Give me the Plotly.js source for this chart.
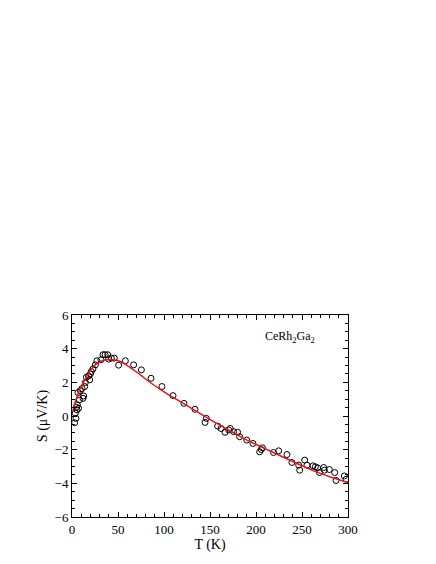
<!DOCTYPE html>
<html>
<head>
<meta charset="utf-8">
<script src="https://cdn.plot.ly/plotly-3.0.1.min.js"></script>
<style>
  body { margin: 0; background: #fff; }
  #plot { width: 436px; height: 564px; }
</style>
</head>
<body>
<div id="plot"></div>
<script>
// measured points, T (K) and S (uV/K)
var tData = [2.9, 4.3, 3.6, 5.4, 4.7, 5.8, 7.2, 8, 6.5, 9, 12, 12.7, 10.9, 13.8, 14.5, 15.6,
  19.2, 18, 20, 21, 22.8, 25.4, 27, 31.5, 33.7, 36, 38.8, 39.9, 42.8, 46, 50.7, 58, 67,
  75.4, 85.9, 97.8, 109.8, 121.7, 133.7, 146, 144.6, 158.3, 162, 166.3, 170.3, 172, 175.7,
  180, 182.2, 190, 196.7, 204, 205.8, 207, 219, 224.6, 233.7, 239, 246.4, 247.5, 252.9,
  255.4, 262, 264.5, 267, 269, 273.6, 274.3, 279.7, 285.5, 287, 296, 298];
var sData = [-0.40, -0.14, 0.16, 0.36, 0.52, 0.66, 0.46, 0.95, 1.39, 1.51, 1.05, 1.19, 1.63,
  1.75, 1.99, 2.30, 2.15, 2.38, 2.50, 2.64, 2.80, 3.04, 3.28, 3.34, 3.64, 3.64, 3.64, 3.38,
  3.44, 3.44, 3.02, 3.28, 3.04, 2.74, 2.24, 1.75, 1.21, 0.75, 0.40, -0.14, -0.38, -0.60,
  -0.74, -0.97, -0.83, -0.74, -0.93, -0.97, -1.23, -1.43, -1.63, -2.13, -1.99, -1.89, -2.17,
  -2.07, -2.29, -2.76, -2.92, -3.22, -2.62, -2.92, -2.96, -3.02, -3.08, -3.36, -3.06, -3.22,
  -3.18, -3.36, -3.83, -3.56, -3.76];

// fit curve
var tFit = [0.7, 3.6, 9, 14.5, 21.7, 30.8, 36, 41.7, 47, 52.5, 63.4, 74.3, 85, 99.6, 117.8,
  135.9, 154, 172, 190, 208, 226.4, 244.6, 262.7, 280.8, 300];
var sFit = [0.26, 0.85, 1.65, 2.2, 2.84, 3.24, 3.33, 3.36, 3.33, 3.24, 2.88, 2.44, 1.99, 1.45,
  0.85, 0.26, -0.34, -0.89, -1.43, -1.89, -2.36, -2.82, -3.26, -3.62, -3.95];

var serif = 'Liberation Serif, Times New Roman, serif';

var traces = [
  {
    x: tData, y: sData, mode: 'markers', type: 'scatter',
    marker: { symbol: 'circle-open', size: 6, color: '#000', line: { width: 1, color: '#000' } },
    hoverinfo: 'skip'
  },
  {
    x: tFit, y: sFit, mode: 'lines', type: 'scatter',
    line: { color: '#e8141c', width: 1.5, shape: 'spline' },
    hoverinfo: 'skip'
  }
];

var axisCommon = {
  showgrid: false, zeroline: false, showline: true, linecolor: '#000', linewidth: 1,
  mirror: 'allticks', ticks: 'inside', ticklen: 5, tickwidth: 1, tickcolor: '#000',
  tickfont: { family: serif, size: 13, color: '#000' }
};

var layout = {
  width: 436, height: 564,
  margin: { l: 72, r: 88, t: 315, b: 47 },
  paper_bgcolor: '#fff', plot_bgcolor: '#fff',
  showlegend: false,
  xaxis: Object.assign({}, axisCommon, {
    range: [0, 300], tick0: 0, dtick: 50,
    minor: { dtick: 10, ticks: 'inside', ticklen: 3, tickcolor: '#000' },
    title: { text: 'T (K)', font: { family: serif, size: 14, color: '#000' }, standoff: 1 }
  }),
  yaxis: Object.assign({}, axisCommon, {
    range: [-6, 6], tick0: -6, dtick: 2,
    minor: { dtick: 0.5, ticks: 'inside', ticklen: 3, tickcolor: '#000' },
    title: { text: 'S (\u03bcV/K)', font: { family: serif, size: 14, color: '#000' }, standoff: 3 }
  }),
  annotations: [{
    x: 237, y: 4.7, xref: 'x', yref: 'y', showarrow: false,
    text: 'CeRh<sub>2</sub>Ga<sub>2</sub>',
    font: { family: serif, size: 12, color: '#000' }
  }]
};

Plotly.newPlot('plot', traces, layout, { staticPlot: true, displayModeBar: false });
</script>
</body>
</html>
